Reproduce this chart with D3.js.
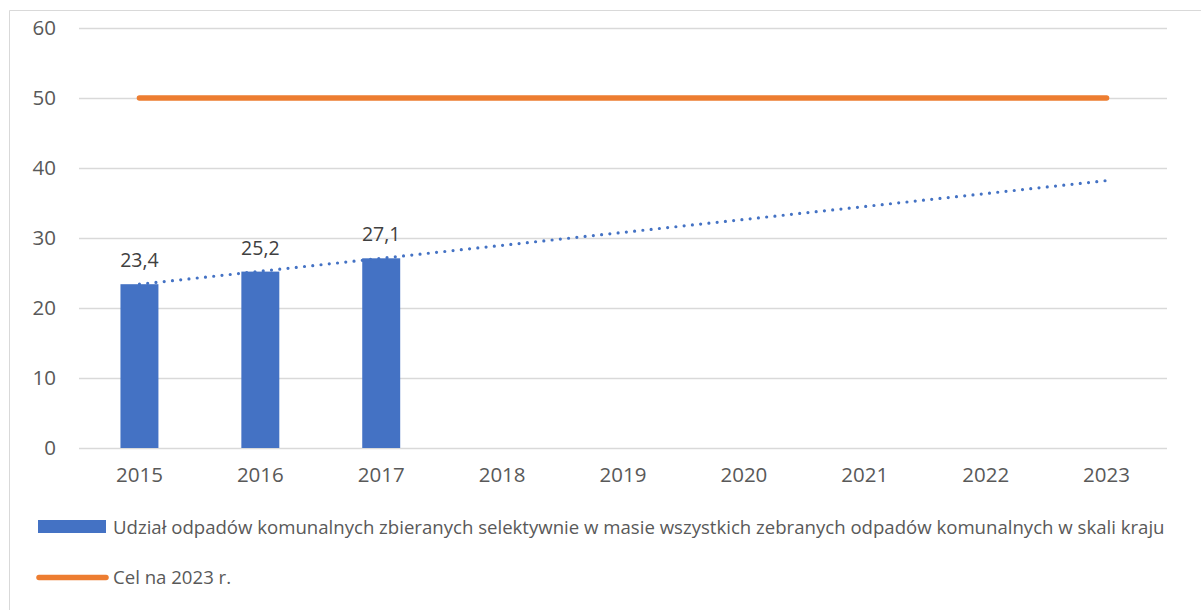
<!DOCTYPE html>
<html>
<head>
<meta charset="utf-8">
<script src="https://cdn.jsdelivr.net/npm/d3@7"></script>
<style>
  html, body { margin: 0; padding: 0; background: #fff; }
  svg { display: block; }
  text { font-family: "Open Sans", sans-serif; }
</style>
</head>
<body>
<svg id="chart" width="1201" height="610"></svg>
<script>
const years = ["2015", "2016", "2017", "2018", "2019", "2020", "2021", "2022", "2023"];
const barYears = ["2015", "2016", "2017"];
const barValues = [23.4, 25.2, 27.1];
const barLabels = ["23,4", "25,2", "27,1"];
const targetYears = ["2015", "2023"];
const targetValues = [50, 50];
const trendYears = ["2015", "2023"];
const trendValues = [23.4, 38.2];
const yTicks = [0, 10, 20, 30, 40, 50, 60];
const legendLabels = [
  "Udział odpadów komunalnych zbieranych selektywnie w masie wszystkich zebranych odpadów komunalnych w skali kraju",
  "Cel na 2023 r."
];

const svg = d3.select("#chart");
const blue = "#4472C4", orange = "#ED7D31", grid = "#d9d9d9", txt = "#595959";

// chart border
svg.append("line").attr("x1", 9.5).attr("x2", 1201).attr("y1", 10.5).attr("y2", 10.5).attr("stroke", grid).attr("stroke-width", 1);
svg.append("line").attr("x1", 9.5).attr("x2", 9.5).attr("y1", 10.5).attr("y2", 610).attr("stroke", grid).attr("stroke-width", 1);

const p = 0.686;
const x = d3.scaleBand().domain(years).range([79, 1167]).paddingInner(p).paddingOuter(p / 2);
const y = d3.scaleLinear().domain([0, 60]).range([448, 28]);
const cx = d => x(d) + x.bandwidth() / 2;

// gridlines
svg.append("g").selectAll("line").data(yTicks).join("line")
  .attr("x1", 79).attr("x2", 1167)
  .attr("y1", d => Math.round(y(d)) + 0.5).attr("y2", d => Math.round(y(d)) + 0.5)
  .attr("stroke", grid).attr("stroke-width", 1.3);

// y labels
const yAxis = d3.axisLeft(y).tickValues(yTicks).tickSize(0).tickPadding(0).tickFormat(d3.format("d"));
const gy = svg.append("g").attr("transform", "translate(56,0)").call(yAxis);
gy.select(".domain").remove();
gy.selectAll("text").attr("font-size", 20.5).attr("fill", txt).attr("font-family", "Open Sans, sans-serif");

// x labels
const xAxis = d3.axisBottom(x).tickSize(0).tickPadding(0);
const gx = svg.append("g").attr("transform", "translate(0,467)").call(xAxis);
gx.select(".domain").remove();
gx.selectAll("text").attr("font-size", 20.5).attr("fill", txt).attr("font-family", "Open Sans, sans-serif");

// bars
svg.append("g").selectAll("rect").data(barYears).join("rect")
  .attr("x", d => x(d)).attr("width", x.bandwidth())
  .attr("y", (d, i) => y(barValues[i])).attr("height", (d, i) => y(0) - y(barValues[i]))
  .attr("fill", blue);

// data labels
svg.append("g").selectAll("text").data(barYears).join("text")
  .attr("x", d => cx(d)).attr("y", (d, i) => y(barValues[i]) - 17)
  .attr("text-anchor", "middle").attr("font-size", 19.5).attr("fill", "#404040")
  .text((d, i) => barLabels[i]);

// target line
const line = d3.line().x(d => cx(d[0])).y(d => y(d[1]));
svg.append("path").datum(targetYears.map((d, i) => [d, targetValues[i]]))
  .attr("d", line).attr("fill", "none").attr("stroke", orange).attr("stroke-width", 5.5).attr("stroke-linecap", "round");

// trend line
svg.append("path").datum(trendYears.map((d, i) => [d, trendValues[i]]))
  .attr("d", line).attr("fill", "none").attr("stroke", blue).attr("stroke-width", 3.2)
  .attr("stroke-linecap", "round").attr("stroke-dasharray", "0 8.3");

// legend
const lg = svg.append("g");
lg.append("rect").attr("x", 38).attr("y", 520).attr("width", 68).attr("height", 13).attr("fill", blue);
lg.append("line").attr("x1", 39).attr("x2", 106).attr("y1", 577.5).attr("y2", 577.5)
  .attr("stroke", orange).attr("stroke-width", 5.5).attr("stroke-linecap", "round");
lg.append("text").attr("x", 113).attr("y", 533.5).attr("font-size", 18.6).attr("fill", txt).text(legendLabels[0]);
lg.append("text").attr("x", 113).attr("y", 583.5).attr("font-size", 18.6).attr("fill", txt).text(legendLabels[1]);
</script>
</body>
</html>
